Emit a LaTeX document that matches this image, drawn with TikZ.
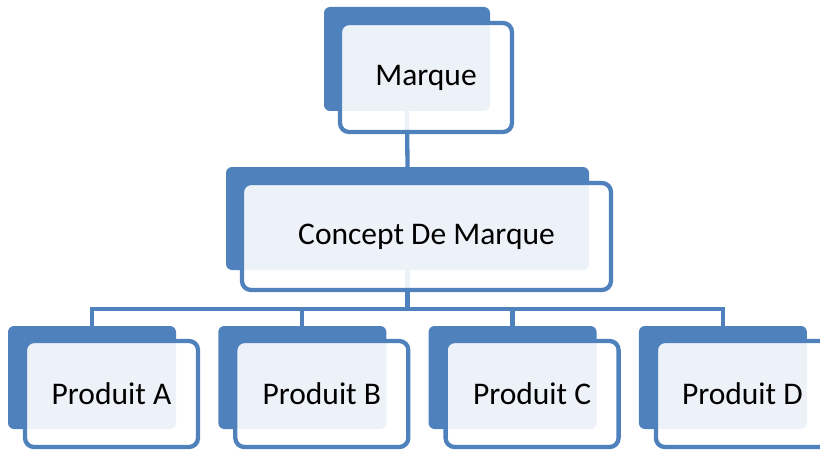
\documentclass[tikz,border=0pt]{standalone}
\usepackage{fontspec}
\setmainfont{Carlito}
\definecolor{accent}{HTML}{4F81BD}
\pgfdeclarelayer{bg}
\pgfsetlayers{bg,main}
\newcommand{\boxtext}[1]{\raisebox{-2.5pt}{#1}}
\tikzset{
  backbox/.style={rectangle, fill=accent, draw=none, rounded corners=6pt, inner sep=0pt},
  frontbox/.style={rectangle, fill=white, fill opacity=0.9, text opacity=1, draw=accent, line width=4.3pt, rounded corners=9pt, inner sep=0pt, font=\fontsize{31.5}{36}\selectfont},
  link/.style={draw=accent, line width=4.3pt}
}
\begin{document}
\begin{tikzpicture}[x=1pt, y=-1pt]
\useasboundingbox (0,0) rectangle (820,452);
\clip (0,0) rectangle (820,452);
% Marque
\node[backbox, minimum width=166pt, minimum height=104pt] (m) at (407,59) {};
\node[frontbox, minimum width=172pt, minimum height=109pt] (mf) at (426,77.5) {\boxtext{Marque}};
% Concept
\node[backbox, minimum width=363pt, minimum height=103pt] (c) at (407.5,218.5) {};
\node[frontbox, minimum width=369pt, minimum height=107pt] (cf) at (426.5,236.5) {\boxtext{Concept De Marque}};
% Products
\foreach \i/\t in {0/A,1/B,2/C,3/D}{
  \node[backbox, minimum width=168pt, minimum height=103pt] (p\i) at (92+210.3*\i,377.5) {};
  \node[frontbox, minimum width=173pt, minimum height=106pt] (pf\i) at (111.5+210.3*\i,394) {\boxtext{Produit \t}};
}
\begin{pgfonlayer}{bg}
\draw[link] (m.south) -- (c.north);
\foreach \i in {0,1,2,3}{
  \draw[link] (c.south) -- ++(0,39) -| (p\i.north);
}
\end{pgfonlayer}
\end{tikzpicture}
\end{document}
